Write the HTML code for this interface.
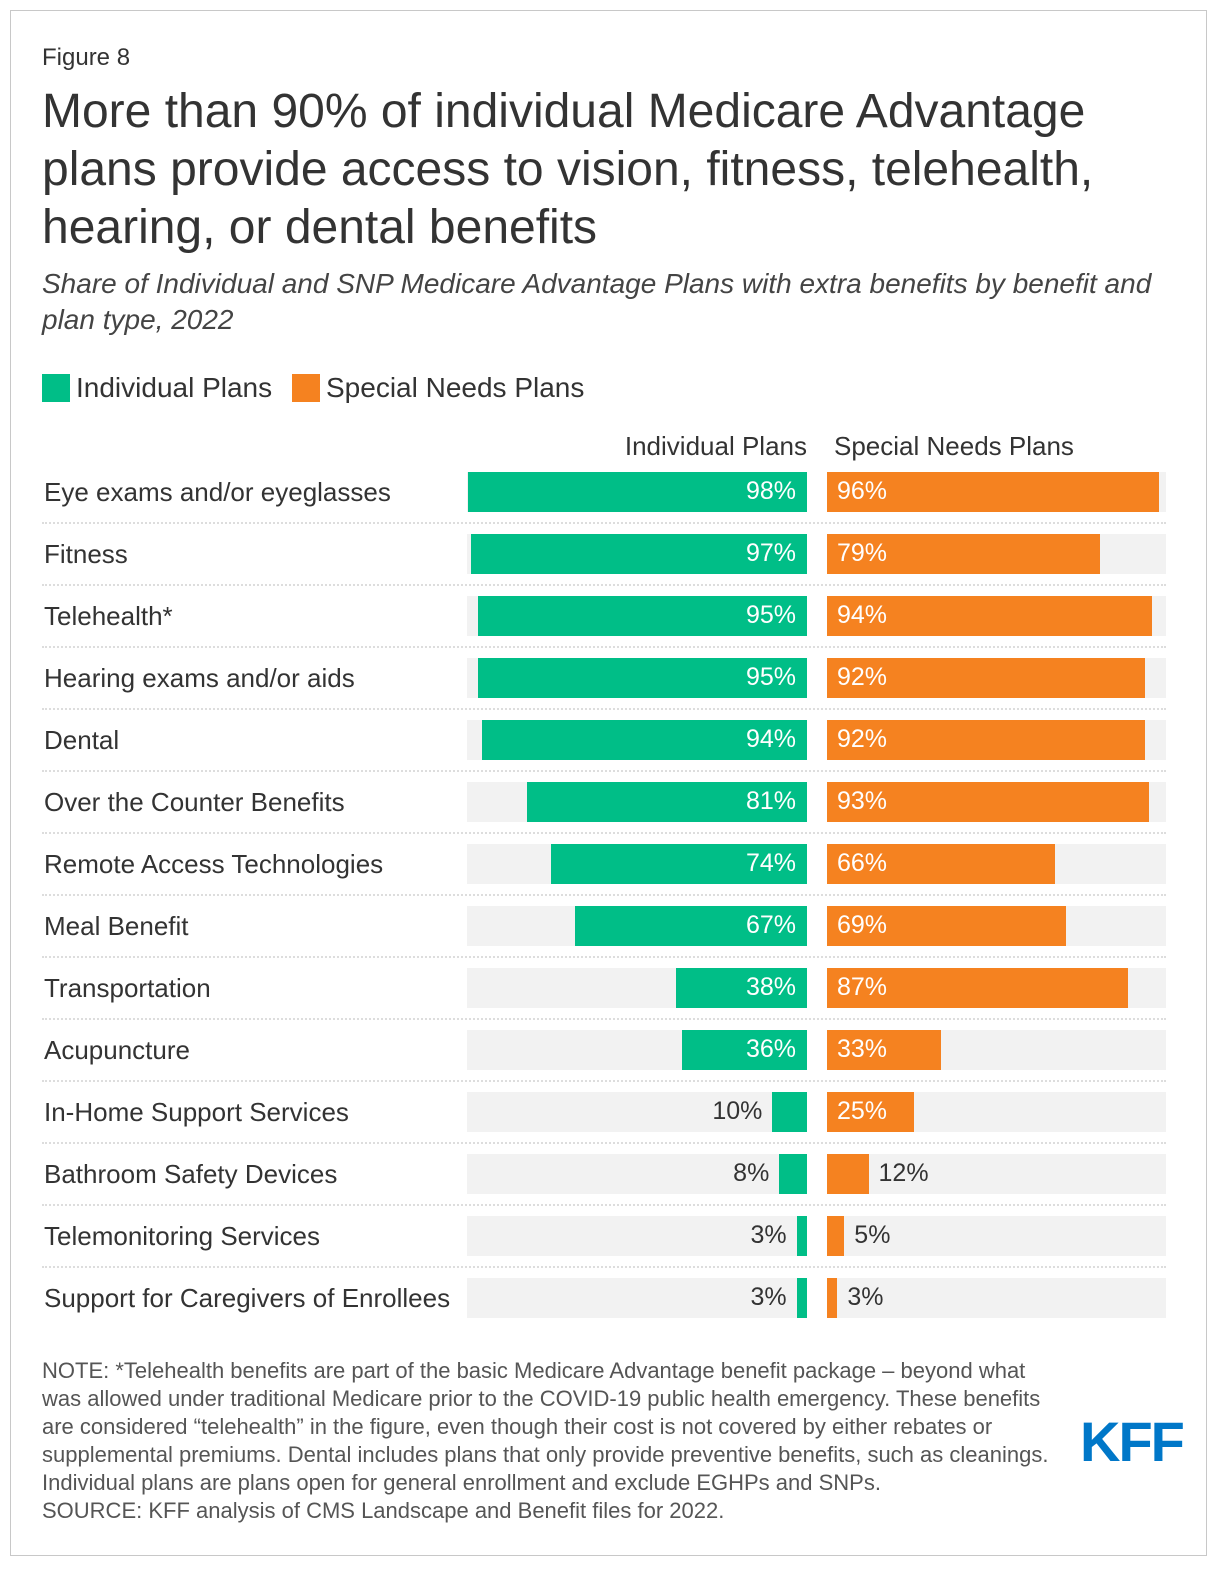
<!DOCTYPE html>
<html><head><meta charset="utf-8"><style>
body{margin:0;background:#fff;font-family:"Liberation Sans",sans-serif;color:#333}
#frame{position:absolute;left:10px;top:10px;width:1197px;height:1546px;border:1px solid #c8c8c8;box-sizing:border-box}
.t{position:absolute;white-space:nowrap}
</style></head><body>
<div id="frame"></div>
<div class="t" style="left:42px;top:44px;font-size:24px">Figure 8</div>
<div class="t" style="left:42px;top:83px;font-size:48px;line-height:58px;color:#333">More than 90% of individual Medicare Advantage<br>plans provide access to vision, fitness, telehealth,<br>hearing, or dental benefits</div>
<div class="t" style="left:42px;top:266px;font-size:28px;line-height:36px;font-style:italic;color:#444">Share of Individual and SNP Medicare Advantage Plans with extra benefits by benefit and<br>plan type, 2022</div>
<div class="t" style="left:42px;top:374px;width:28px;height:28px;background:#00be87"></div>
<div class="t" style="left:76px;top:372px;font-size:28px">Individual Plans</div>
<div class="t" style="left:292px;top:374px;width:28px;height:28px;background:#f58220"></div>
<div class="t" style="left:326px;top:372px;font-size:28px">Special Needs Plans</div>
<div class="t" style="left:467px;width:340px;top:431px;font-size:26px;text-align:right">Individual Plans</div>
<div class="t" style="left:834px;top:431px;font-size:26px">Special Needs Plans</div>
<div id="chart"></div>
<div class="t" style="left:42px;top:1357px;font-size:22px;line-height:28px;color:#555">NOTE: *Telehealth benefits are part of the basic Medicare Advantage benefit package – beyond what<br>was allowed under traditional Medicare prior to the COVID-19 public health emergency. These benefits<br>are considered “telehealth” in the figure, even though their cost is not covered by either rebates or<br>supplemental premiums. Dental includes plans that only provide preventive benefits, such as cleanings.<br>Individual plans are plans open for general enrollment and exclude EGHPs and SNPs.<br>SOURCE: KFF analysis of CMS Landscape and Benefit files for 2022.</div>
<div class="t" style="left:1080px;top:1409px;font-size:56px;font-weight:bold;color:#0077c8;letter-spacing:-2px">KFF</div>
<script>
const categories=["Eye exams and/or eyeglasses","Fitness","Telehealth*","Hearing exams and/or aids","Dental","Over the Counter Benefits","Remote Access Technologies","Meal Benefit","Transportation","Acupuncture","In-Home Support Services","Bathroom Safety Devices","Telemonitoring Services","Support for Caregivers of Enrollees"];
const individualValues=[98,97,95,95,94,81,74,67,38,36,10,8,3,3];
const snpValues=[96,79,94,92,92,93,66,69,87,33,25,12,5,3];
const chart=document.getElementById('chart');
const pxPer=3.46, top0=472, step=62, bh=40, lRight=807, rLeft=827, trackW=340;
function scale(v){return v*pxPer;}
function mk(css,name,txt){const d=document.createElement('div');d.className='t';d.style.cssText=css;if(txt!==undefined)d.textContent=txt;


chart.appendChild(d);return d;}
categories.forEach((c,i)=>{
  const y=top0+i*step;
  mk(`left:44px;top:${y+5}px;font-size:26px`,'category-label',c);
  mk(`left:467px;top:${y}px;width:${trackW}px;height:${bh}px;background:#f2f2f2`,'track-individual');
  mk(`left:827px;top:${y}px;width:${trackW-1}px;height:${bh}px;background:#f2f2f2`,'track-snp');
  const lv=individualValues[i],lw=Math.min(scale(lv),trackW);
  mk(`left:${lRight-lw}px;top:${y}px;width:${lw}px;height:${bh}px;background:#00be87`,'bar-individual');
  if(lv>=20) mk(`left:${lRight-lw}px;width:${lw-11}px;top:${y+5}px;font-size:25px;color:#fff;text-align:right`,'value-individual',lv+'%');
  else mk(`left:${lRight-lw-200}px;width:${190}px;top:${y+5}px;font-size:25px;text-align:right`,'value-individual',lv+'%');
  const rv=snpValues[i],rw=Math.min(scale(rv),trackW);
  mk(`left:${rLeft}px;top:${y}px;width:${rw}px;height:${bh}px;background:#f58220`,'bar-snp');
  if(rv>=20) mk(`left:${rLeft+10}px;top:${y+5}px;font-size:25px;color:#fff`,'value-snp',rv+'%');
  else mk(`left:${rLeft+rw+10}px;top:${y+5}px;font-size:25px`,'value-snp',rv+'%');
  if(i<categories.length-1) mk(`left:42px;top:${y+50}px;width:1124px;height:0;border-top:2px dotted #ddd`,'row-separator');
});
</script>
</body></html>
